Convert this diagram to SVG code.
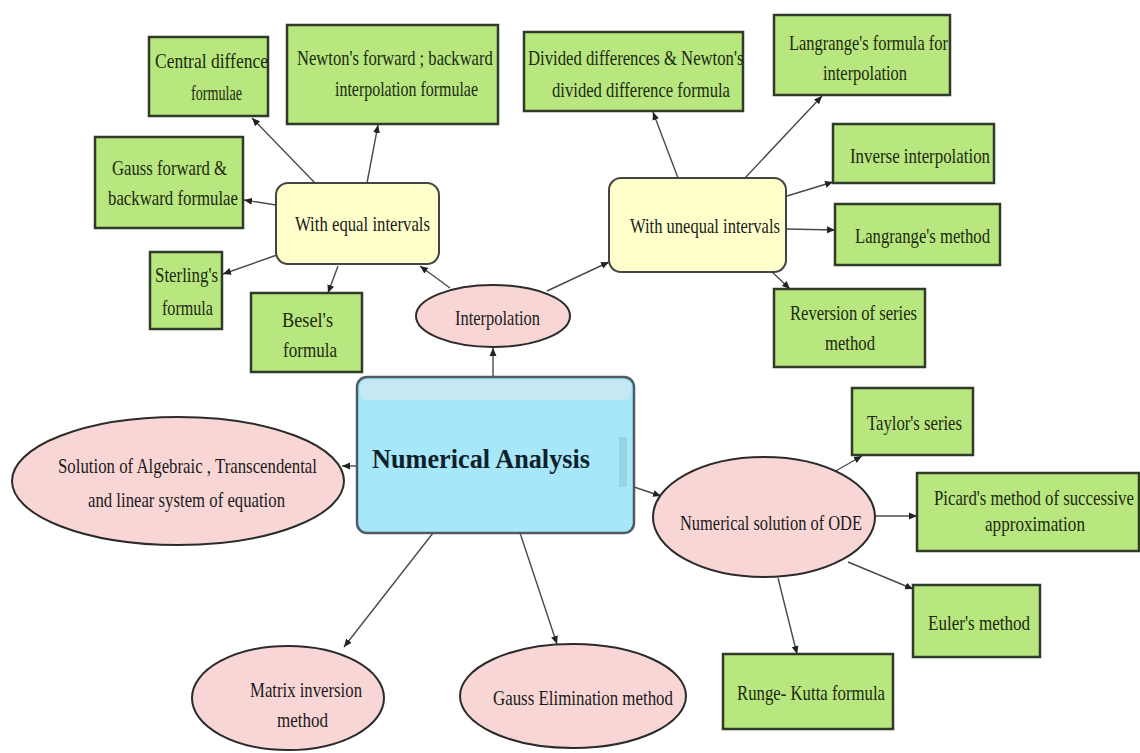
<svg xmlns="http://www.w3.org/2000/svg" width="1140" height="753" viewBox="0 0 1140 753">
<style>
.g{fill:#b8e67f;stroke:#2f3a28;stroke-width:2.5}
.y{fill:#ffffcc;stroke:#444;stroke-width:2}
.p{fill:#f9d6d6;stroke:#2b2b2b;stroke-width:2}
.t{font-family:"Liberation Serif","Times New Roman",serif;font-size:22px;fill:#1a1a1a}
.tg{font-family:"Liberation Serif","Times New Roman",serif;font-size:22px;fill:#1c2a10}
.c line{stroke:#4a4a4a;stroke-width:1.4;marker-end:url(#ah)}
</style>
<defs>
<marker id="ah" markerWidth="9" markerHeight="8" refX="8" refY="4" orient="auto" markerUnits="userSpaceOnUse">
<path d="M0,0.5 L8,4 L0,7.5 Z" fill="#222"/>
</marker>
</defs>
<rect width="1140" height="753" fill="#ffffff"/>
<g class="c" id="connectors">
<line x1="493" y1="378" x2="493" y2="348"/>
<line x1="450" y1="288" x2="420" y2="266"/>
<line x1="547" y1="291" x2="609" y2="262"/>
<line x1="315" y1="183" x2="252" y2="118"/>
<line x1="367" y1="183" x2="378" y2="125"/>
<line x1="276" y1="205" x2="244" y2="200"/>
<line x1="277" y1="255" x2="223" y2="274"/>
<line x1="338" y1="266" x2="328" y2="293"/>
<line x1="678" y1="178" x2="653" y2="112"/>
<line x1="745" y1="178" x2="822" y2="96"/>
<line x1="787" y1="196" x2="833" y2="182"/>
<line x1="787" y1="229" x2="835" y2="230"/>
<line x1="770" y1="270" x2="790" y2="289"/>
<line x1="357" y1="466" x2="342" y2="466"/>
<line x1="634" y1="487" x2="661" y2="496"/>
<line x1="433" y1="533" x2="344" y2="647"/>
<line x1="520" y1="533" x2="557" y2="644"/>
<line x1="832" y1="473" x2="862" y2="456"/>
<line x1="875" y1="516" x2="917" y2="516"/>
<line x1="848" y1="562" x2="913" y2="589"/>
<line x1="778" y1="578" x2="797" y2="654"/>
</g>
<g id="central-diff">
<rect class="g" x="149" y="37" width="119" height="79"/>
<text class="tg" x="155" y="68" textLength="113" lengthAdjust="spacingAndGlyphs">Central diffence</text>
<text class="tg" x="191" y="100" textLength="51" lengthAdjust="spacingAndGlyphs">formulae</text>
</g>
<g id="newton">
<rect class="g" x="287" y="25" width="211" height="99"/>
<text class="tg" transform="translate(297,65) scale(0.75,1)" x="0" y="0" textLength="261" lengthAdjust="spacingAndGlyphs">Newton's forward ; backward</text>
<text class="tg" x="335" y="96" textLength="143" lengthAdjust="spacingAndGlyphs">interpolation formulae</text>
</g>
<g id="gauss-fwd">
<rect class="g" x="95" y="137" width="148" height="91"/>
<text class="tg" x="112" y="175" textLength="115" lengthAdjust="spacingAndGlyphs">Gauss forward &amp;</text>
<text class="tg" x="108" y="205" textLength="130" lengthAdjust="spacingAndGlyphs">backward formulae</text>
</g>
<g id="equal">
<rect class="y" x="276" y="183" width="163" height="81" rx="12"/>
<text class="t" x="295" y="231" textLength="135" lengthAdjust="spacingAndGlyphs">With equal intervals</text>
</g>
<g id="sterling">
<rect class="g" x="150" y="252" width="72" height="77"/>
<text class="tg" x="155" y="282" textLength="63" lengthAdjust="spacingAndGlyphs">Sterling's</text>
<text class="tg" x="162" y="315" textLength="51" lengthAdjust="spacingAndGlyphs">formula</text>
</g>
<g id="besel">
<rect class="g" x="251" y="293" width="111" height="79"/>
<text class="tg" x="282" y="327" textLength="51" lengthAdjust="spacingAndGlyphs">Besel's</text>
<text class="tg" x="283" y="357" textLength="54" lengthAdjust="spacingAndGlyphs">formula</text>
</g>
<g id="interpolation">
<ellipse class="p" cx="493" cy="316" rx="77" ry="31"/>
<text class="t" x="455" y="325" textLength="85" lengthAdjust="spacingAndGlyphs">Interpolation</text>
</g>
<g id="divided">
<rect class="g" x="524" y="32" width="219" height="79"/>
<text class="tg" transform="translate(528,65) scale(0.775,1)" x="0" y="0" textLength="278" lengthAdjust="spacingAndGlyphs">Divided differences &amp; Newton's</text>
<text class="tg" x="552" y="97" textLength="178" lengthAdjust="spacingAndGlyphs">divided difference formula</text>
</g>
<g id="unequal">
<rect class="y" x="609" y="178" width="177" height="94" rx="12"/>
<text class="t" x="630" y="233" textLength="150" lengthAdjust="spacingAndGlyphs">With unequal intervals</text>
</g>
<g id="langrange-formula">
<rect class="g" x="774" y="15" width="176" height="80"/>
<text class="tg" x="789" y="50" textLength="159" lengthAdjust="spacingAndGlyphs">Langrange's formula for</text>
<text class="tg" x="823" y="80" textLength="84" lengthAdjust="spacingAndGlyphs">interpolation</text>
</g>
<g id="inverse">
<rect class="g" x="833" y="124" width="161" height="59"/>
<text class="tg" x="850" y="163" textLength="140" lengthAdjust="spacingAndGlyphs">Inverse interpolation</text>
</g>
<g id="langrange-method">
<rect class="g" x="835" y="204" width="165" height="61"/>
<text class="tg" x="855" y="243" textLength="135" lengthAdjust="spacingAndGlyphs">Langrange's method</text>
</g>
<g id="reversion">
<rect class="g" x="774" y="289" width="151" height="78"/>
<text class="tg" x="790" y="320" textLength="127" lengthAdjust="spacingAndGlyphs">Reversion of series</text>
<text class="tg" x="825" y="350" textLength="50" lengthAdjust="spacingAndGlyphs">method</text>
</g>
<g id="numerical-analysis">
<rect x="357" y="377" width="277" height="156" rx="10" fill="#a6e8f9" stroke="#505a60" stroke-width="2.5"/>
<rect x="360" y="380" width="271" height="20" rx="8" fill="#c4e9f4"/>
<rect x="619" y="437" width="8" height="50" fill="#96d4e6"/>
<text x="372" y="468" textLength="218" lengthAdjust="spacingAndGlyphs" font-family="'Liberation Serif','Times New Roman',serif" font-size="27" font-weight="bold" fill="#10202a">Numerical Analysis</text>
</g>
<g id="solution">
<ellipse class="p" cx="178" cy="481" rx="166" ry="64"/>
<text class="t" x="58" y="473" textLength="259" lengthAdjust="spacingAndGlyphs">Solution of Algebraic , Transcendental</text>
<text class="t" x="88" y="507" textLength="197" lengthAdjust="spacingAndGlyphs">and linear system of equation</text>
</g>
<g id="taylor">
<rect class="g" x="852" y="388" width="121" height="67"/>
<text class="tg" x="867" y="430" textLength="95" lengthAdjust="spacingAndGlyphs">Taylor's series</text>
</g>
<g id="picard">
<rect class="g" x="917" y="473" width="222" height="78"/>
<text class="tg" transform="translate(934,505) scale(0.775,1)" x="0" y="0" textLength="258" lengthAdjust="spacingAndGlyphs">Picard's method of successive</text>
<text class="tg" x="985" y="531" textLength="100" lengthAdjust="spacingAndGlyphs">approximation</text>
</g>
<g id="ode">
<ellipse class="p" cx="764" cy="517" rx="111" ry="60"/>
<text class="t" x="680" y="530" textLength="182" lengthAdjust="spacingAndGlyphs">Numerical solution of ODE</text>
</g>
<g id="euler">
<rect class="g" x="913" y="585" width="127" height="72"/>
<text class="tg" x="928" y="630" textLength="102" lengthAdjust="spacingAndGlyphs">Euler's method</text>
</g>
<g id="runge">
<rect class="g" x="723" y="654" width="170" height="75"/>
<text class="tg" x="737" y="700" textLength="148" lengthAdjust="spacingAndGlyphs">Runge- Kutta formula</text>
</g>
<g id="matrix">
<ellipse class="p" cx="288" cy="698" rx="96" ry="52"/>
<text class="t" x="250" y="697" textLength="112" lengthAdjust="spacingAndGlyphs">Matrix inversion</text>
<text class="t" x="277" y="727" textLength="51" lengthAdjust="spacingAndGlyphs">method</text>
</g>
<g id="gauss-elim">
<ellipse class="p" cx="573" cy="696" rx="113" ry="52"/>
<text class="t" x="493" y="705" textLength="180" lengthAdjust="spacingAndGlyphs">Gauss Elimination method</text>
</g>
</svg>
